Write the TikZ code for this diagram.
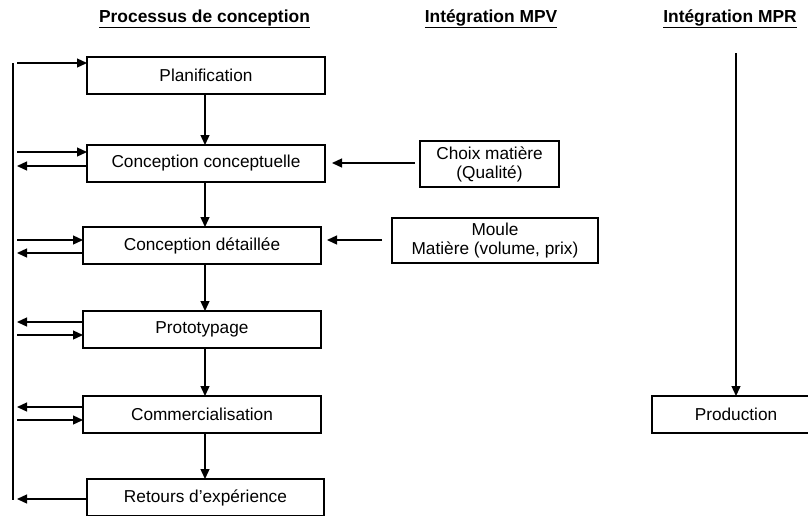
\documentclass[tikz,border=0pt]{standalone}
\usepackage{fontspec}
\setmainfont{Liberation Sans}
\usetikzlibrary{arrows.meta}
\begin{document}
\begin{tikzpicture}[x=1pt,y=-1pt,
  box/.style={draw, line width=1.3pt, inner sep=0pt, outer sep=0pt, minimum width=238pt, minimum height=37pt, font=\fontsize{17.25}{19}\selectfont, align=center},
  arr/.style={line width=1.3pt, -{Triangle[length=10pt,width=9pt]}},
  ln/.style={line width=1.3pt},
  hdr/.style={font=\fontsize{17.4}{20}\selectfont\bfseries, inner sep=0pt}
]
\useasboundingbox (0,0) rectangle (808,515);
% headers
\node[hdr] (h1) at (204.5,19) {\underline{Processus de conception}};
\node[hdr] (h2) at (491,19) {\underline{Intégration MPV}};
\node[hdr] (h3) at (730,19) {\underline{Intégration MPR}};
% main boxes
\node[box] (plan) at (206,75.5) {Planification};
\node[box] (cc) at (206,163.5) {Conception conceptuelle};
\node[box] (cd) at (202,245.5) {Conception détaillée};
\node[box] (proto) at (202,329.5) {Prototypage};
\node[box] (comm) at (202,414.5) {Commercialisation};
\node[box, minimum width=237pt] (ret) at (205.5,497.5) {Retours d’expérience};
\node[box, minimum width=139pt, minimum height=46pt] (choix) at (489.5,164) {Choix matière\\(Qualité)};
\node[box, minimum width=206pt, minimum height=45pt] (moule) at (495,240.5) {Moule\\Matière (volume, prix)};
\node[box, minimum width=168pt] (prod) at (736,414.5) {Production};
% vertical flow
\coordinate (ax) at (205,0);
\draw[arr] (plan.south -| ax) -- (cc.north -| ax);
\draw[arr] (cc.south -| ax) -- (cd.north -| ax);
\draw[arr] (cd.south -| ax) -- (proto.north -| ax);
\draw[arr] (proto.south -| ax) -- (comm.north -| ax);
\draw[arr] (comm.south -| ax) -- (ret.north -| ax);
% left feedback line
\coordinate (Ltop) at (13,63);
\coordinate (Lbot) at (13,500);
\draw[ln] (Ltop) -- (Lbot);
\coordinate (s1) at (17,63);
\coordinate (s2) at (17,152);
\coordinate (s3) at (17,166);
\coordinate (s4) at (17,240);
\coordinate (s5) at (17,253);
\coordinate (s6) at (17,322);
\coordinate (s7) at (17,335);
\coordinate (s8) at (17,407);
\coordinate (s9) at (17,420);
\coordinate (s10) at (17,499);
\draw[arr] (s1) -- (plan.west |- s1);
\draw[arr] (s2) -- (cc.west |- s2);
\draw[arr] (cc.west |- s3) -- (s3);
\draw[arr] (s4) -- (cd.west |- s4);
\draw[arr] (cd.west |- s5) -- (s5);
\draw[arr] (proto.west |- s6) -- (s6);
\draw[arr] (s7) -- (proto.west |- s7);
\draw[arr] (comm.west |- s8) -- (s8);
\draw[arr] (s9) -- (comm.west |- s9);
\draw[arr] (ret.west |- s10) -- (s10);
% MPV inputs
\coordinate (c1) at (415,163);
\coordinate (c2) at (382,240);
\draw[arr, shorten >=7pt] (c1) -- (cc.east |- c1);
\draw[arr, shorten >=6pt] (c2) -- (cd.east |- c2);
% MPR
\coordinate (mtop) at (736,53);
\draw[arr] (mtop) -- (prod.north);
\end{tikzpicture}
\end{document}
